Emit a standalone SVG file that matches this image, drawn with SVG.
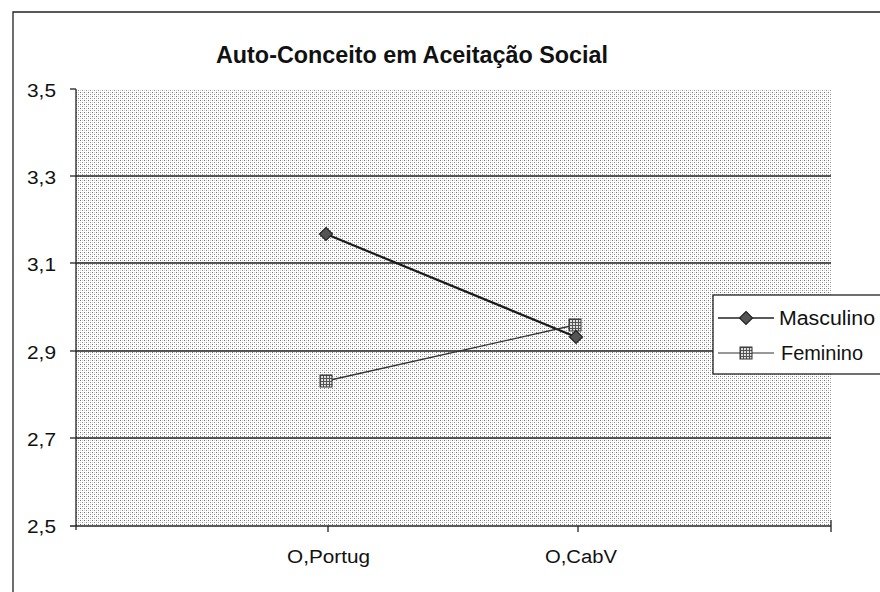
<svg xmlns="http://www.w3.org/2000/svg" width="880" height="592" viewBox="0 0 880 592">
  <defs>
    <pattern id="dots" width="4" height="4" patternUnits="userSpaceOnUse">
      <rect width="4" height="4" fill="#ffffff"/>
      <rect x="0" y="0" width="1" height="1" fill="#707070"/>
      <rect x="2" y="2" width="1" height="1" fill="#909090"/>
      <rect x="2" y="0" width="1" height="1" fill="#d0d0d0"/>
      <rect x="0" y="2" width="1" height="1" fill="#d0d0d0"/>
    </pattern>
    <pattern id="grid" width="3" height="3" patternUnits="userSpaceOnUse">
      <rect width="3" height="3" fill="#e0e0e0"/>
      <rect x="0" y="0" width="3" height="1" fill="#555"/>
      <rect x="0" y="0" width="1" height="3" fill="#555"/>
    </pattern>
    <g id="mDiamond">
      <polygon points="0,-6.5 6.5,0 0,6.5 -6.5,0" fill="#555" stroke="#222" stroke-width="1.2"/>
    </g>
    <g id="mSquare">
      <rect x="-6" y="-6" width="12" height="12" fill="url(#grid)" stroke="#333" stroke-width="1"/>
    </g>
  </defs>
  <style>
    .ax { font-family: "Liberation Sans", Arial, sans-serif; font-size: 18px; fill: #111; }
    .lg { font-family: "Liberation Sans", Arial, sans-serif; font-size: 20px; fill: #111; }
    .ttl { font-family: "Liberation Sans", Arial, sans-serif; font-size: 23px; font-weight: bold; fill: #111; }
    .grid { stroke: #222; stroke-width: 1.3; }
    .frame { stroke: #222; stroke-width: 1.3; fill: none; }
  </style>

  <rect width="880" height="592" fill="#ffffff"/>
  <!-- outer chart frame -->
  <path class="frame" d="M13,592 L13,12 L880,12"/>

  <g id="title">
    <text class="ttl" x="412" y="63" text-anchor="middle" textLength="392" lengthAdjust="spacingAndGlyphs">Auto-Conceito em Aceitação Social</text>
  </g>

  <g id="plot-area">
    <rect x="76" y="89" width="755" height="437" fill="url(#dots)"/>
    <line class="grid" x1="76" y1="176" x2="831" y2="176"/>
    <line class="grid" x1="76" y1="263" x2="831" y2="263"/>
    <line class="grid" x1="76" y1="351" x2="831" y2="351"/>
    <line class="grid" x1="76" y1="438" x2="831" y2="438"/>
  </g>

  <g id="axes">
    <line class="grid" x1="76" y1="89" x2="76" y2="530"/>
    <line class="grid" x1="70" y1="526" x2="831" y2="526"/>
    <line class="grid" x1="70" y1="89" x2="76" y2="89"/>
    <line class="grid" x1="70" y1="176" x2="76" y2="176"/>
    <line class="grid" x1="70" y1="263" x2="76" y2="263"/>
    <line class="grid" x1="70" y1="351" x2="76" y2="351"/>
    <line class="grid" x1="70" y1="438" x2="76" y2="438"/>
    <line class="grid" x1="328" y1="526" x2="328" y2="532"/>
    <line class="grid" x1="578" y1="526" x2="578" y2="532"/>
    <line class="grid" x1="831" y1="520" x2="831" y2="532"/>
    <text class="ax" x="27" y="97" textLength="29" lengthAdjust="spacingAndGlyphs">3,5</text>
    <text class="ax" x="27" y="184" textLength="29" lengthAdjust="spacingAndGlyphs">3,3</text>
    <text class="ax" x="27" y="271" textLength="29" lengthAdjust="spacingAndGlyphs">3,1</text>
    <text class="ax" x="27" y="359" textLength="29" lengthAdjust="spacingAndGlyphs">2,9</text>
    <text class="ax" x="27" y="446" textLength="29" lengthAdjust="spacingAndGlyphs">2,7</text>
    <text class="ax" x="27" y="533" textLength="29" lengthAdjust="spacingAndGlyphs">2,5</text>
    <text class="ax" x="287" y="563" textLength="83" lengthAdjust="spacingAndGlyphs">O,Portug</text>
    <text class="ax" x="545" y="563" textLength="72" lengthAdjust="spacingAndGlyphs">O,CabV</text>
  </g>

  <g id="connectors">
    <line x1="326" y1="234" x2="576" y2="337" stroke="#1a1a1a" stroke-width="2.2"/>
    <line x1="326" y1="381" x2="575" y2="325" stroke="#333" stroke-width="1.3"/>
  </g>

  <g id="masculino-portug"><use href="#mDiamond" x="326" y="234"/></g>
  <g id="feminino-portug"><use href="#mSquare" x="326" y="381"/></g>
  <g id="feminino-cabv"><use href="#mSquare" x="575" y="325"/></g>
  <g id="masculino-cabv"><use href="#mDiamond" x="576" y="337"/></g>

  <g id="legend">
    <rect x="713" y="295" width="170" height="79" fill="#ffffff" stroke="#222" stroke-width="1.3"/>
    <line x1="718" y1="318" x2="774" y2="318" stroke="#222" stroke-width="1.3"/>
    <use href="#mDiamond" x="746" y="318"/>
    <text class="lg" x="779" y="325" textLength="96" lengthAdjust="spacingAndGlyphs">Masculino</text>
    <line x1="718" y1="353" x2="774" y2="353" stroke="#333" stroke-width="1.1"/>
    <use href="#mSquare" x="746" y="353"/>
    <text class="lg" x="781" y="360" textLength="82" lengthAdjust="spacingAndGlyphs">Feminino</text>
  </g>
</svg>
